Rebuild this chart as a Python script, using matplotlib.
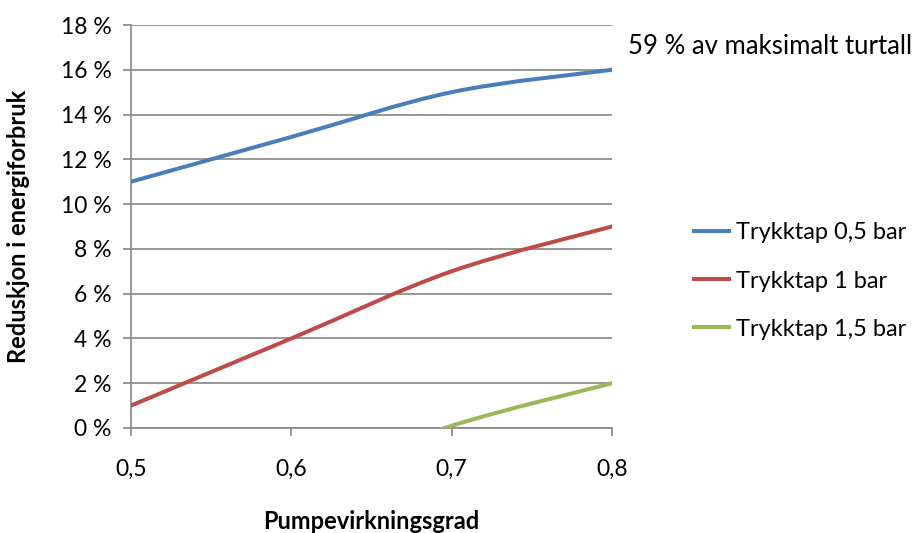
import matplotlib.pyplot as plt
from matplotlib.path import Path
from matplotlib.patches import PathPatch
from matplotlib.lines import Line2D

plt.rcParams['font.family'] = ['Lato', 'DejaVu Sans']

x = [0.5, 0.6, 0.7, 0.8]
blue = [11, 13, 15, 16]
red = [1, 4, 7, 9]
green = [-6, -2.5, 0.1, 2]
labels = ['Trykktap 0,5 bar', 'Trykktap 1 bar', 'Trykktap 1,5 bar']
colors = ['#4A7EBB', '#BE4B48', '#98B954']
yticks = [0, 2, 4, 6, 8, 10, 12, 14, 16, 18]
xticks = [0.5, 0.6, 0.7, 0.8]


def smooth_path(xs, ys, t=1 / 6):
    # bezier smoothing like excel's smoothed line
    verts = [(xs[0], ys[0])]
    codes = [Path.MOVETO]
    n = len(xs)
    for i in range(n - 1):
        x0, y0 = xs[max(i - 1, 0)], ys[max(i - 1, 0)]
        x1, y1 = xs[i], ys[i]
        x2, y2 = xs[i + 1], ys[i + 1]
        x3, y3 = xs[min(i + 2, n - 1)], ys[min(i + 2, n - 1)]
        c1 = (x1 + (x2 - x0) * t, y1 + (y2 - y0) * t)
        c2 = (x2 - (x3 - x1) * t, y2 - (y3 - y1) * t)
        verts += [c1, c2, (x2, y2)]
        codes += [Path.CURVE4] * 3
    return Path(verts, codes)


fig = plt.figure(figsize=(9.17, 5.33), dpi=100)
ax = fig.add_axes([131 / 917, 105 / 533, 481 / 917, 403 / 533])

for ys, c in zip([blue, red, green], colors):
    p = PathPatch(smooth_path(x, ys), fill=False, edgecolor=c, lw=2.9,
                  capstyle='round', joinstyle='round', zorder=3)
    ax.add_patch(p)

ax.set_xlim(0.5, 0.8)
ax.set_ylim(0, 18)
ax.set_yticks(yticks)
ax.set_yticklabels([f'{v} %' for v in yticks])
ax.set_xticks(xticks)
ax.set_xticklabels([f'{v:.1f}'.replace('.', ',') for v in xticks])
ax.grid(axis='y', color='#868686', lw=1.2)
ax.set_axisbelow(True)
for s in ['top', 'right']:
    ax.spines[s].set_visible(False)
for s in ['left', 'bottom']:
    ax.spines[s].set_color('#868686')
    ax.spines[s].set_linewidth(1.2)
ax.tick_params(axis='both', colors='#868686', labelcolor='black', labelsize=16.5,
               length=6, width=1.2)
ax.tick_params(axis='x', pad=16)
ax.tick_params(axis='y', pad=8)

ax.set_xlabel('Pumpevirkningsgrad', fontsize=17, fontweight='bold', labelpad=22)
ax.set_ylabel('Reduskjon i energiforbruk', fontsize=17, fontweight='bold', labelpad=22)

fig.text(628 / 917, 1 - 47 / 533, '59 % av maksimalt turtall', fontsize=18.5,
         va='center', ha='left')

handles = [Line2D([], [], color=c, lw=2.9) for c in colors]
fig.legend(handles, labels, loc='center left', bbox_to_anchor=(694 / 917, 1 - 281 / 533),
           frameon=False, fontsize=17, handlelength=1.5, handletextpad=0.3,
           labelspacing=1.15, borderpad=0, borderaxespad=0)

fig.savefig('out.png', dpi=100)
